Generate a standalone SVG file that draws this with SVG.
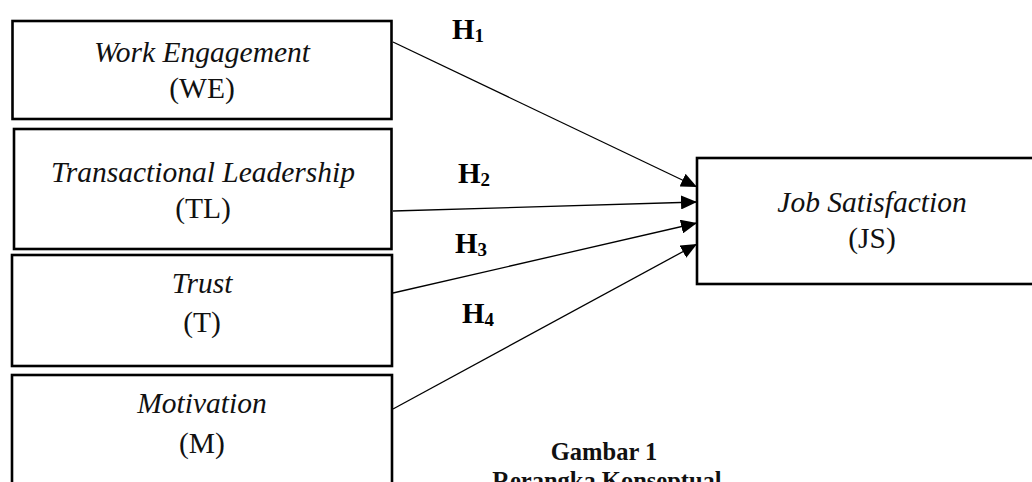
<svg xmlns="http://www.w3.org/2000/svg" width="1032" height="482" viewBox="0 0 1032 482">
<style>
.box{fill:#fff;stroke:#000;stroke-width:2.6}
.it{font-family:"Liberation Serif","Times New Roman",serif;font-style:italic;font-size:29.5px;fill:#111;text-anchor:middle}
.rg{font-family:"Liberation Serif","Times New Roman",serif;font-size:29.5px;fill:#111;text-anchor:middle}
.hl{font-family:"Liberation Serif","Times New Roman",serif;font-weight:bold;font-size:29px;fill:#000}
.sub{font-size:19px}
.cap{font-family:"Liberation Serif","Times New Roman",serif;font-weight:bold;font-size:24.5px;fill:#111;text-anchor:middle}
.con{stroke:#000;stroke-width:1.3;fill:none;marker-end:url(#arr)}
</style>
<defs>
<marker id="arr" viewBox="0 0 16 14" markerUnits="userSpaceOnUse" markerWidth="16" markerHeight="14" refX="16" refY="7" orient="auto">
<path d="M0,0 L16,7 L0,14 z" fill="#000"/>
</marker>
</defs>
<g id="node-WE">
<rect class="box" x="12.5" y="21" width="379" height="98"/>
<text class="it" x="202" y="62">Work Engagement</text>
<text class="rg" x="202" y="98">(WE)</text>
</g>
<g id="node-TL">
<rect class="box" x="14" y="129" width="377.5" height="120"/>
<text class="it" x="203" y="182">Transactional Leadership</text>
<text class="rg" x="203" y="218">(TL)</text>
</g>
<g id="node-T">
<rect class="box" x="12" y="255" width="380" height="111"/>
<text class="it" x="202" y="293">Trust</text>
<text class="rg" x="202" y="332">(T)</text>
</g>
<g id="node-M">
<rect class="box" x="12" y="375" width="380" height="125"/>
<text class="it" x="202" y="413">Motivation</text>
<text class="rg" x="202" y="453">(M)</text>
</g>
<g id="node-JS">
<rect class="box" x="697" y="158" width="345" height="126"/>
<text class="it" x="872" y="212">Job Satisfaction</text>
<text class="rg" x="872" y="248">(JS)</text>
</g>
<g id="connectors">
<line class="con" x1="393" y1="42" x2="697" y2="187"/>
<line class="con" x1="393" y1="211" x2="697" y2="202"/>
<line class="con" x1="393" y1="293" x2="697" y2="223"/>
<line class="con" x1="393" y1="409" x2="697" y2="244"/>
</g>
<g id="labels">
<text class="hl" x="452" y="39">H<tspan class="sub" dy="3">1</tspan></text>
<text class="hl" x="458" y="183">H<tspan class="sub" dy="3">2</tspan></text>
<text class="hl" x="455" y="253">H<tspan class="sub" dy="3">3</tspan></text>
<text class="hl" x="462" y="323">H<tspan class="sub" dy="3">4</tspan></text>
</g>
<g id="caption">
<text class="cap" x="604" y="460">Gambar 1</text>
<text class="cap" x="607" y="489">Rerangka Konseptual</text>
</g>
</svg>
